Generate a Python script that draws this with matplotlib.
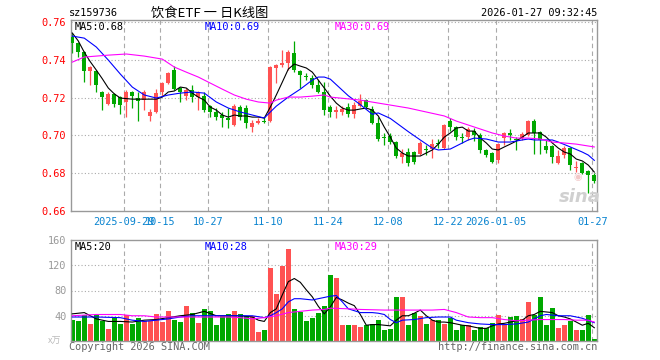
import matplotlib
matplotlib.use("Agg")
import matplotlib.pyplot as plt
import numpy as np

plt.rcParams['font.family'] = ['DejaVu Sans Mono']

# daily candles, 2025-09-16 .. 2026-01-27 (index = trading day)
opens = [0.7521, 0.7489, 0.7441, 0.7341, 0.7341, 0.7230, 0.7166, 0.7219, 0.7203, 0.7177,
         0.7230, 0.7198, 0.7187, 0.7103, 0.7124, 0.7230, 0.7277, 0.7346, 0.7251, 0.7208,
         0.7240, 0.7203, 0.7208, 0.7155, 0.7124, 0.7108, 0.7092, 0.7055, 0.7150, 0.7145,
         0.7044, 0.7066, 0.7076, 0.7076, 0.7357, 0.7372, 0.7383, 0.7436, 0.7341, 0.7314,
         0.7304, 0.7267, 0.7230, 0.7150, 0.7124, 0.7124, 0.7150, 0.7113, 0.7155, 0.7187,
         0.7140, 0.7066, 0.6991, 0.6997, 0.6965, 0.6886, 0.6912, 0.6912, 0.6902, 0.6928,
         0.6928, 0.6960, 0.6933, 0.7076, 0.7044, 0.6991, 0.6991, 0.7023, 0.7002, 0.6923,
         0.6907, 0.6870, 0.6986, 0.7013, 0.6981, 0.6986, 0.7002, 0.7076, 0.7018, 0.6944,
         0.6944, 0.6854, 0.6896, 0.6933, 0.6828, 0.6854, 0.6812, 0.6790]
highs = [0.7542, 0.7494, 0.7445, 0.7367, 0.7346, 0.7235, 0.7230, 0.7224, 0.7208, 0.7240,
         0.7235, 0.7230, 0.7240, 0.7140, 0.7245, 0.7282, 0.7335, 0.7367, 0.7256, 0.7251,
         0.7267, 0.7235, 0.7230, 0.7161, 0.7145, 0.7124, 0.7145, 0.7166, 0.7161, 0.7161,
         0.7081, 0.7092, 0.7097, 0.7367, 0.7378, 0.7452, 0.7452, 0.7499, 0.7346, 0.7330,
         0.7320, 0.7293, 0.7282, 0.7161, 0.7155, 0.7155, 0.7171, 0.7177, 0.7219, 0.7192,
         0.7155, 0.7097, 0.7013, 0.7013, 0.6970, 0.6928, 0.6933, 0.6917, 0.6970, 0.6949,
         0.6981, 0.6981, 0.7060, 0.7092, 0.7050, 0.7013, 0.7044, 0.7039, 0.7013, 0.6928,
         0.6912, 0.6960, 0.7018, 0.7034, 0.6991, 0.7018, 0.7081, 0.7087, 0.7023, 0.6976,
         0.6949, 0.6923, 0.6944, 0.6939, 0.6865, 0.6859, 0.6817, 0.6801]
lows = [0.7436, 0.7415, 0.7282, 0.7267, 0.7230, 0.7134, 0.7161, 0.7150, 0.7113, 0.7097,
        0.7145, 0.7076, 0.7134, 0.7076, 0.7118, 0.7208, 0.7272, 0.7240, 0.7177, 0.7187,
        0.7177, 0.7134, 0.7124, 0.7097, 0.7081, 0.7044, 0.7039, 0.7050, 0.7081, 0.7039,
        0.7018, 0.7060, 0.7066, 0.7071, 0.7277, 0.7362, 0.7346, 0.7335, 0.7251, 0.7293,
        0.7251, 0.7224, 0.7108, 0.7097, 0.7092, 0.7108, 0.7097, 0.7092, 0.7150, 0.7145,
        0.7060, 0.6970, 0.6949, 0.6954, 0.6880, 0.6854, 0.6838, 0.6849, 0.6896, 0.6896,
        0.6880, 0.6933, 0.6928, 0.7023, 0.6976, 0.6960, 0.6976, 0.6970, 0.6907, 0.6886,
        0.6854, 0.6854, 0.6949, 0.6976, 0.6923, 0.6976, 0.6997, 0.6902, 0.6902, 0.6907,
        0.6854, 0.6849, 0.6880, 0.6817, 0.6806, 0.6796, 0.6695, 0.6748]
closes = [0.7489, 0.7441, 0.7341, 0.7362, 0.7267, 0.7203, 0.7219, 0.7166, 0.7161, 0.7230,
          0.7208, 0.7182, 0.7230, 0.7124, 0.7224, 0.7277, 0.7330, 0.7245, 0.7230, 0.7240,
          0.7203, 0.7230, 0.7134, 0.7124, 0.7097, 0.7092, 0.7081, 0.7155, 0.7097, 0.7066,
          0.7066, 0.7076, 0.7071, 0.7362, 0.7372, 0.7383, 0.7441, 0.7346, 0.7320, 0.7309,
          0.7267, 0.7230, 0.7134, 0.7124, 0.7134, 0.7140, 0.7113, 0.7161, 0.7182, 0.7150,
          0.7066, 0.6981, 0.6986, 0.6965, 0.6891, 0.6907, 0.6854, 0.6859, 0.6960, 0.6923,
          0.6954, 0.6954, 0.7055, 0.7044, 0.6991, 0.6986, 0.7034, 0.7002, 0.6923, 0.6896,
          0.6859, 0.6954, 0.7013, 0.7002, 0.6976, 0.7007, 0.7076, 0.7013, 0.6976, 0.6923,
          0.6886, 0.6891, 0.6933, 0.6843, 0.6833, 0.6801, 0.6790, 0.6759]
# volume, in 万 (10k) shares
volumes = [33, 32, 41, 27, 41, 31, 19, 37, 27, 41, 27, 36, 31, 31, 43, 30, 48, 33, 30, 56,
           45, 29, 51, 48, 26, 40, 42, 48, 42, 40, 40, 15, 18, 115, 74, 119, 145, 50, 46, 31,
           37, 45, 55, 104, 100, 25, 25, 25, 22, 26, 27, 33, 17, 19, 69, 69, 26, 44, 40, 27,
           33, 33, 27, 36, 17, 26, 25, 17, 22, 20, 29, 41, 27, 38, 40, 35, 62, 41, 69, 26,
           52, 21, 25, 32, 17, 17, 41, 3]

# moving averages as drawn on the chart
ma5 = [0.7542, 0.7500, 0.7440, 0.7390, 0.7346, 0.7300, 0.7251, 0.7220, 0.7198, 0.7195,
       0.7192, 0.7192, 0.7192, 0.7192, 0.7192, 0.7203, 0.7230, 0.7235, 0.7256, 0.7251,
       0.7224, 0.7203, 0.7187, 0.7150, 0.7134, 0.7108, 0.7097, 0.7108, 0.7103, 0.7103,
       0.7097, 0.7097, 0.7092, 0.7150, 0.7214, 0.7282, 0.7351, 0.7378, 0.7367, 0.7357,
       0.7335, 0.7293, 0.7251, 0.7208, 0.7171, 0.7145, 0.7134, 0.7134, 0.7140, 0.7145,
       0.7134, 0.7103, 0.7044, 0.6991, 0.6933, 0.6907, 0.6891, 0.6891, 0.6891, 0.6907,
       0.6923, 0.6954, 0.6991, 0.7013, 0.7039, 0.7044, 0.7023, 0.7023, 0.6986, 0.6960,
       0.6928, 0.6923, 0.6939, 0.6954, 0.6970, 0.6991, 0.7013, 0.7013, 0.7013, 0.6991,
       0.6960, 0.6933, 0.6912, 0.6902, 0.6875, 0.6865, 0.6843, 0.6806]
ma10_idx = [0, 2, 4, 6, 8, 10, 12, 14, 16, 18, 20, 22, 24, 26, 28, 30, 32, 33, 34, 36,
            38, 40, 41, 42, 43, 46, 48, 50, 51, 53, 56, 58, 60, 61, 63, 65, 66, 67, 69, 71,
            73, 75, 76, 77, 79, 80, 81, 83, 85, 86, 87]
ma10 = [0.7526, 0.7515, 0.7468, 0.7399, 0.7325, 0.7256, 0.7214, 0.7198, 0.7214, 0.7224,
        0.7230, 0.7224, 0.7177, 0.7145, 0.7124, 0.7108, 0.7092, 0.7124, 0.7155, 0.7203,
        0.7245, 0.7293, 0.7309, 0.7309, 0.7298, 0.7210, 0.7163, 0.7112, 0.7119, 0.7090,
        0.7020, 0.6976, 0.6933, 0.6923, 0.6928, 0.6960, 0.6976, 0.6986, 0.6981, 0.6965,
        0.6965, 0.6976, 0.6981, 0.6976, 0.6976, 0.6976, 0.6965, 0.6939, 0.6912, 0.6896,
        0.6868]
ma30_idx = [0, 2, 4, 6, 9, 12, 15, 17, 19, 21, 23, 25, 27, 29, 31, 33, 34, 36, 38, 40,
            42, 43, 48, 52, 56, 59, 62, 64, 66, 68, 70, 72, 74, 76, 78, 80, 82, 84, 86, 87]
ma30 = [0.7388, 0.7415, 0.7420, 0.7425, 0.7431, 0.7420, 0.7404, 0.7362, 0.7335, 0.7309,
        0.7277, 0.7245, 0.7214, 0.7192, 0.7177, 0.7171, 0.7187, 0.7203, 0.7203, 0.7208,
        0.7214, 0.7203, 0.7187, 0.7166, 0.7145, 0.7124, 0.7103, 0.7076, 0.7055, 0.7034,
        0.7013, 0.6997, 0.6986, 0.6986, 0.6981, 0.6965, 0.6960, 0.6954, 0.6944, 0.6939]

vma5_idx = [0, 2, 4, 6, 8, 10, 12, 14, 16, 18, 20, 22, 24, 26, 28, 30, 31, 32, 33, 34,
            35, 36, 37, 38, 39, 40, 41, 42, 43, 44, 45, 46, 47, 48, 49, 50, 51, 52, 53, 54,
            55, 56, 57, 58, 59, 60, 61, 62, 63, 64, 65, 66, 67, 68, 69, 70, 71, 72, 73, 74,
            75, 76, 77, 78, 79, 80, 81, 82, 83, 84, 85, 86, 87]
vma5 = [43, 45, 35, 31, 31, 30, 33, 34, 37, 40, 42, 47, 40, 40, 40, 38, 33, 31, 45, 51,
        73, 94, 99, 93, 81, 70, 55, 43, 54, 69, 65, 60, 56, 42, 25, 26, 26, 25, 24, 33,
        40, 40, 44, 49, 40, 33, 30, 30, 29, 27, 25, 24, 22, 20, 20, 24, 27, 28, 30, 32,
        33, 40, 42, 47, 46, 45, 40, 38, 35, 30, 25, 28, 21]
vma10_idx = [0, 4, 8, 10, 12, 14, 16, 18, 20, 22, 24, 26, 28, 30, 32, 33, 34, 35, 36, 37,
             38, 40, 42, 43, 44, 45, 46, 48, 50, 51, 52, 53, 54, 55, 57, 59, 61, 63, 64, 66,
             68, 70, 72, 74, 76, 77, 78, 79, 81, 83, 85, 87]
vma10 = [38, 38, 37, 33, 31, 33, 35, 38, 40, 40, 40, 40, 40, 40, 37, 40, 45, 51, 62, 67,
         67, 65, 69, 71, 72, 62, 51, 45, 45, 44, 42, 34, 29, 33, 34, 37, 38, 38, 33, 29,
         27, 26, 26, 27, 30, 35, 40, 42, 40, 40, 36, 29]
vma30_idx = [0, 4, 8, 10, 12, 14, 16, 18, 20, 22, 24, 26, 28, 30, 32, 34, 36, 38, 40, 42,
             43, 46, 48, 52, 56, 60, 62, 64, 66, 68, 70, 72, 74, 76, 78, 80, 82, 84, 86, 87]
vma30 = [40, 42, 42, 40, 40, 38, 38, 38, 38, 38, 38, 38, 37, 35, 37, 40, 45, 47, 49, 50,
         52, 51, 50, 49, 49, 49, 50, 45, 38, 37, 37, 34, 32, 33, 34, 34, 34, 33, 33, 30]

date_ticks = [9, 15, 23, 33, 43, 53, 63, 71, 87]
date_labels = ["2025-09-29", "10-15", "10-27", "11-10", "11-24", "12-08", "12-22",
               "2026-01-05", "01-27"]
price_ticks = [0.66, 0.68, 0.70, 0.72, 0.74, 0.76]
vol_ticks = [40, 80, 120, 160]

UP = '#ff5252'
DOWN = '#00a800'
GRID = '#aaaaaa'
W, H = 660, 360

fig = plt.figure(figsize=(6.6, 3.6), dpi=100)
fig.patch.set_facecolor('white')


def fx(px):
    return px / W


def fy(py):
    return 1 - py / H


ax = fig.add_axes([fx(70.5), fy(211), fx(597) - fx(70.5), fy(20) - fy(211)])
axv = fig.add_axes([fx(70.5), fy(341), fx(597) - fx(70.5), fy(240) - fy(341)])

x = np.arange(len(closes))
o = np.array(opens)
c = np.array(closes)
up = c >= o
colors = np.where(up, UP, DOWN)

# price panel
for yv in price_ticks[1:]:
    ax.axhline(yv, color=GRID, lw=0.8, ls=(0, (1, 2)), zorder=0)
for t in date_ticks:
    ax.axvline(t - 0.35, color=GRID, lw=0.8, ls=(0, (4, 3)), zorder=0)
    axv.axvline(t - 0.35, color=GRID, lw=0.8, ls=(0, (4, 3)), zorder=0)

ax.vlines(x, lows, highs, colors=colors, lw=0.9, zorder=2)
body_h = np.maximum(np.abs(c - o), 0.0005)
ax.bar(x, body_h, bottom=np.minimum(o, c), width=0.66, color=colors, linewidth=0, zorder=3)

ax.plot(x, ma5, color='black', lw=0.8, zorder=4)
ax.plot(ma10_idx, ma10, color='#0000ff', lw=0.8, zorder=4)
ax.plot(ma30_idx, ma30, color='#ff00ff', lw=0.8, zorder=4)

ax.set_xlim(-0.3, 87.45)
ax.set_ylim(0.66, 0.7611)
ax.set_yticks(price_ticks)
ax.set_yticklabels(['%.2f' % v for v in price_ticks])
ax.set_xticks([t - 0.35 for t in date_ticks])
ax.set_xticklabels(date_labels)
ax.tick_params(axis='y', length=0, pad=3, labelcolor='#ff0000', labelsize=7.4)
ax.tick_params(axis='x', length=0, pad=4, labelcolor='#0a84d0', labelsize=7.4)

# volume panel
for yv in vol_ticks[:-1]:
    axv.axhline(yv, color=GRID, lw=0.8, ls=(0, (1, 2)), zorder=0)
axv.bar(x, volumes, width=0.84, color=colors, linewidth=0, zorder=2)
axv.plot(vma5_idx, vma5, color='black', lw=0.8, zorder=4)
axv.plot(vma10_idx, vma10, color='#0000ff', lw=0.8, zorder=4)
axv.plot(vma30_idx, vma30, color='#ff00ff', lw=0.8, zorder=4)
axv.set_xlim(-0.3, 87.45)
axv.set_ylim(0, 160)
axv.set_yticks(vol_ticks)
axv.set_xticks([])
axv.tick_params(axis='y', length=0, pad=3, labelcolor='#999999', labelsize=7.4)

for a in (ax, axv):
    for s in a.spines.values():
        s.set_color('#999999')
        s.set_linewidth(1.0)

# header and labels
fig.text(fx(69), fy(13), 'sz159736', fontsize=7.4, ha='left', va='center')
fig.text(fx(210), fy(13), '饮食ETF 一 日K线图', fontsize=9.5, ha='center', va='center',
         family=['Noto Sans CJK SC', 'DejaVu Sans'])
fig.text(fx(597), fy(13), '2026-01-27 09:32:45', fontsize=7.4, ha='right', va='center')

fig.text(fx(75), fy(27), 'MA5:0.68', fontsize=7.4, color='black', va='center')
fig.text(fx(205), fy(27), 'MA10:0.69', fontsize=7.4, color='#0000ff', va='center')
fig.text(fx(335), fy(27), 'MA30:0.69', fontsize=7.4, color='#ff00ff', va='center')
fig.text(fx(75), fy(247), 'MA5:20', fontsize=7.4, color='black', va='center')
fig.text(fx(205), fy(247), 'MA10:28', fontsize=7.4, color='#0000ff', va='center')
fig.text(fx(335), fy(247), 'MA30:29', fontsize=7.4, color='#ff00ff', va='center')

fig.text(fx(48), fy(341), 'x万', fontsize=6.5, color='#bbbbbb', va='center', style='italic',
         family=['Noto Sans CJK SC', 'DejaVu Sans'])
fig.text(fx(69), fy(347), 'Copyright 2026 SINA.COM', fontsize=7.4, color='#666666', va='center')
fig.text(fx(597), fy(347), 'http://finance.sina.com.cn', fontsize=7.4, color='#666666',
         ha='right', va='center')

# sina watermark
fig.text(fx(580), fy(197), 'sina', fontsize=13, color='#d0d0d0', ha='center', va='center',
         style='italic', weight='bold', family='DejaVu Sans')
fig.text(fx(578), fy(177), '◉', fontsize=7, color='#f2c8c8', ha='center', va='center',
         family='DejaVu Sans')

fig.savefig('out.png', dpi=100, facecolor='white')
